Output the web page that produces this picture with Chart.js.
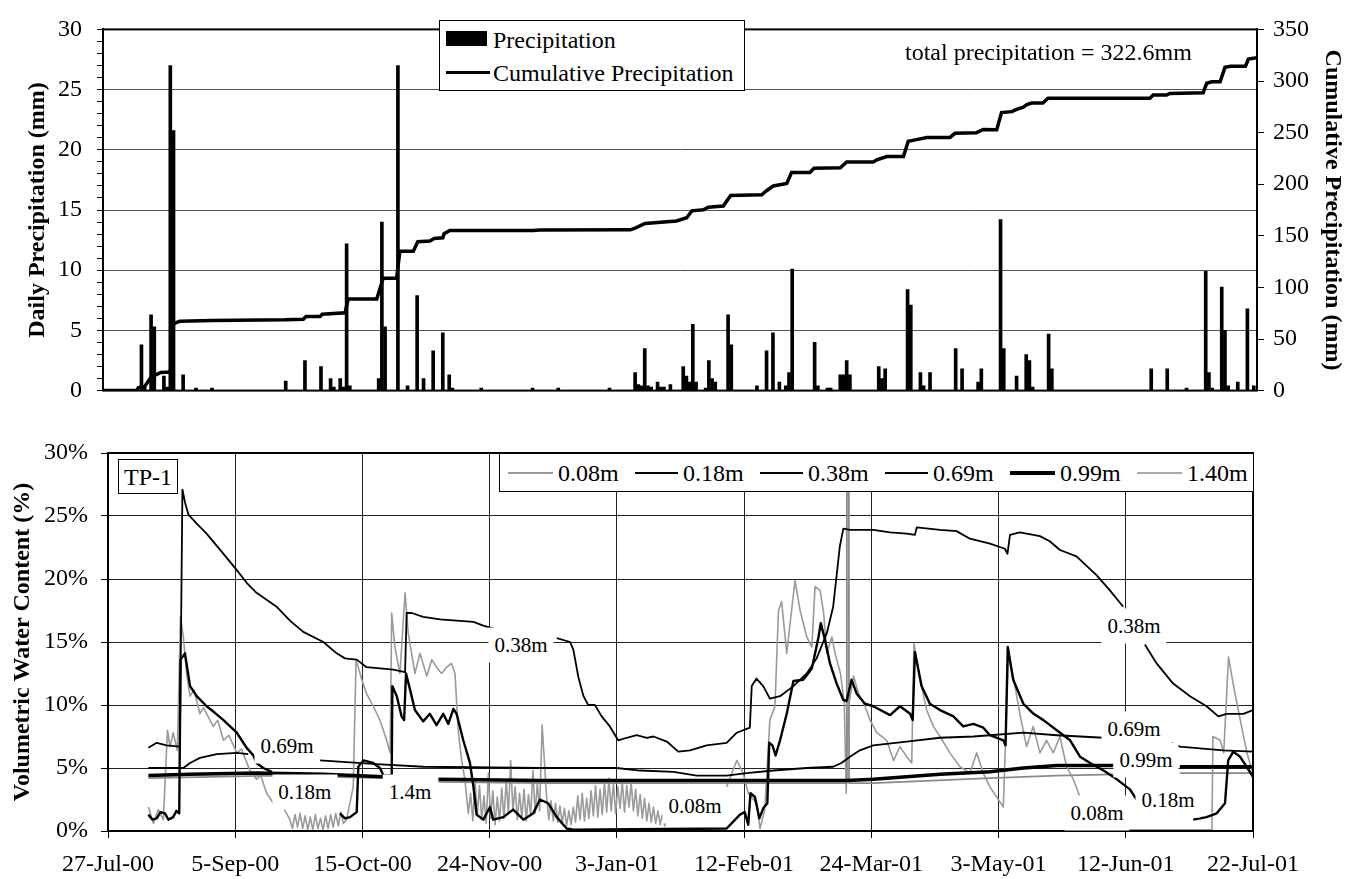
<!DOCTYPE html>
<html><head><meta charset="utf-8">
<script src="https://cdn.jsdelivr.net/npm/chart.js@4.4.1/dist/chart.umd.min.js"></script>
<style>
 body{margin:0;background:#fff;}
 #wrap{position:relative;width:1345px;height:879px;overflow:hidden;font-family:'Liberation Serif','Times New Roman',serif;color:#000;}
 canvas{position:absolute;left:0;}
 .box{position:absolute;background:#fff;border:1px solid #000;box-sizing:border-box;}
 .txt{position:absolute;font-size:24px;line-height:24px;white-space:nowrap;}
 .lbl{position:absolute;background:#fff;font-size:21px;line-height:21px;padding:7px 6px;white-space:nowrap;transform:translate(-50%,-50%);}
 .sw{position:absolute;}
</style></head>
<body><div id="wrap">
<canvas id="top" width="1345" height="420" style="top:0"></canvas>
<canvas id="bot" width="1345" height="459" style="top:420px"></canvas>
<div class="box" style="left:439px;top:20px;width:306px;height:71px">
  <div class="sw" style="left:6px;top:10px;width:41px;height:15px;background:#000"></div>
  <div class="txt" style="left:53px;top:7px">Precipitation</div>
  <div class="sw" style="left:6px;top:50px;width:44px;height:3px;background:#000"></div>
  <div class="txt" style="left:53px;top:40px">Cumulative Precipitation</div>
</div>
<div class="txt" style="left:905px;top:40px">total precipitation = 322.6mm</div>
<div class="box" style="left:499px;top:453px;width:755px;height:39px">
  <div class="sw" style="left:8px;top:18px;width:45px;height:2px;background:#999"></div>
  <div class="txt" style="left:58px;top:7px">0.08m</div>
  <div class="sw" style="left:135px;top:18px;width:43px;height:1.5px;background:#000"></div>
  <div class="txt" style="left:183px;top:7px">0.18m</div>
  <div class="sw" style="left:260px;top:18px;width:43px;height:1.5px;background:#000"></div>
  <div class="txt" style="left:308px;top:7px">0.38m</div>
  <div class="sw" style="left:385px;top:18px;width:43px;height:1.5px;background:#000"></div>
  <div class="txt" style="left:433px;top:7px">0.69m</div>
  <div class="sw" style="left:510px;top:17px;width:45px;height:4px;background:#000"></div>
  <div class="txt" style="left:560px;top:7px">0.99m</div>
  <div class="sw" style="left:637px;top:18px;width:45px;height:1.5px;background:#aaa"></div>
  <div class="txt" style="left:687px;top:7px">1.40m</div>
</div>
<div class="box" style="left:118px;top:459px;width:60px;height:35px">
  <div class="txt" style="left:0;width:58px;text-align:center;top:5px">TP-1</div>
</div>
</div>
<script>
// ---------- DATA ----------
// Top chart: days since 27-Jul-00
const rainDay = [12,13,15,16,19,20,21,22,25,29,34,57,63,68,71,72,74,75,76,77,86,87,88,92,95,98,100,103,106,108,109,118,134,142,158,166,167,168,169,170,171,173,174,175,177,181,182,183,184,185,188,189,190,191,195,196,204,207,209,211,213,214,215,222,223,226,227,230,231,232,233,242,243,244,251,252,255,256,258,266,268,273,274,280,281,285,288,289,290,295,296,327,332,338,344,345,346,349,350,351,354,357,359];
const rainMM  = [3.8,0.3,6.3,5.3,1.2,0.3,27.0,21.6,1.3,0.2,0.2,0.8,2.5,2.0,1.0,0.3,1.0,0.3,12.2,0.4,1.0,14.0,5.3,27.0,0.4,7.9,1.0,3.3,4.8,1.3,0.2,0.2,0.2,0.2,0.2,1.5,0.5,0.4,3.5,0.4,0.3,0.7,0.3,0.3,0.5,2.0,1.2,0.7,5.5,0.7,0.2,2.5,1.0,0.7,6.3,3.8,0.4,3.3,4.8,0.7,0.4,1.5,10.1,4.0,0.4,0.2,0.2,1.3,1.3,2.5,1.3,2.0,1.0,1.8,8.4,7.1,1.5,0.4,1.5,3.5,1.8,0.7,1.8,14.2,3.5,1.2,3.0,2.5,0.3,4.7,1.8,1.8,1.8,0.2,9.9,1.5,0.2,8.6,5.0,0.4,0.7,6.8,0.4];
const cumDay = [0,10.5,11,13,15,16,18,21,22,24,34,56.8,62.5,63.3,67.7,68.4,75.5,76.5,85.4,87.4,91.6,92.6,96.8,98.2,102,103.3,106,106.4,108.2,134.1,136.3,164.5,166,169.1,178.9,182.1,183.7,187.3,188.8,193.5,195.8,205.5,207,209.1,213.3,214.8,220.5,221.8,230,232,240.3,241.4,244.5,249.7,251.2,253.8,257,264.2,265.8,272.5,274.6,278.8,280.3,283.5,285,287.1,288.2,289.7,293.2,294.8,326.6,327.6,331.8,332.8,343.2,344.3,345.9,348.5,350,351.7,356.4,357.3,360];
const cumMM  = [0,0,2.8,4,13,14.5,17.6,18,64.9,67.1,68,68.6,69.2,71.7,71.7,74.1,75.4,88.7,88.7,108.8,108.8,135,135,144.3,145,147.4,148,152,155.1,155.1,155.5,155.8,157.5,161.9,164.4,167.5,174.2,175.2,177.6,178.9,189,189.7,193.7,198.3,200.8,211.3,211.3,215.4,215.9,221.5,221.5,223.7,226.8,226.8,241.6,243.2,245.3,245.3,249.3,249.9,253,252.8,269.4,270.3,272.5,274.7,277.1,278.7,278.7,283.3,283.3,286.4,286.4,287.9,288.6,297.8,299.3,299.3,313.2,314.2,314.2,321.3,322.6];

// Bottom chart: [day since 27-Jul-00, volumetric water content %]; null = break
const vwc008 = [[12.7,1.9],[14.3,0.6],[15.8,1.7],[17.4,0.9],[18.7,8.0],[19.5,6.7],[20.5,7.8],[21.8,6.4],[22.8,17.0],[23.7,15.4],[24.7,12.5],[25.8,10.7],[27,11.2],[28.9,9.3],[30,9.8],[33.1,8.3],[34.5,8.8],[36.3,7.2],[38,7.6],[40.5,6.2],[42,6.5],[44.6,4.8],[46.7,4.1],[48,4.4],[49.9,3.0],[52.0,2.2],[54,2.4],[57.2,0.9],[58,0.2],[58.8,1.3],[59.6,0.3],[60.4,1.4],[61.2,0.2],[62,1.2],[62.8,0.1],[63.6,1.1],[64.4,0.1],[65.2,1.3],[66,0.2],[66.8,1.0],[67.6,0.1],[68.4,1.2],[69.2,0.2],[70,1.3],[70.8,0.3],[71.6,1.4],[72.4,0.4],[73.2,1.5],[74,0.6],[75.0,0.9],[77.1,3.5],[78.0,13.6],[79.8,12.0],[81.3,10.9],[83.4,9.9],[85.5,8.8],[87.6,7.2],[88.7,6.2],[89.2,17.3],[90.2,14.6],[91.8,12.5],[93.4,18.9],[94.4,15.7],[96.5,12.5],[98.1,14.1],[100.2,12.3],[101.8,13.6],[103.3,13.0],[104.9,12.5],[106.5,13.0],[108.0,13.3],[109.1,12.5],[110.1,8.0],[111.2,5.6],[112.2,4.1],[113.3,1.4],[114,3.0],[114.7,0.8],[115.4,4.1],[116.1,1.2],[116.8,3.6],[117.5,0.9],[118.2,2.8],[118.9,0.6],[119.6,4.6],[120.3,1.0],[121,3.2],[121.7,0.5],[122.4,2.7],[123.1,0.8],[123.8,3.4],[124.5,1.0],[125.2,4.0],[125.9,1.4],[126.6,5.6],[127.3,1.6],[128,3.5],[128.7,0.9],[129.4,3.0],[130.1,1.1],[130.8,3.3],[131.5,0.8],[132.2,2.9],[132.9,1.2],[133.6,4.8],[134.3,1.4],[135,3.8],[135.7,1.6],[136.5,8.4],[137.9,2.7],[138.6,0.9],[139.3,2.4],[140,0.8],[140.7,2.2],[141.4,0.7],[142.1,2.0],[142.8,0.6],[143.5,1.8],[144.2,0.4],[144.9,1.6],[145.6,0.5],[146.3,1.9],[147,0.7],[147.7,2.8],[148.4,0.9],[149.1,3.0],[149.8,0.8],[150.5,2.6],[151.2,1.0],[151.9,3.2],[152.6,1.2],[153.3,3.6],[154,1.1],[154.7,3.3],[155.4,1.3],[156.1,3.9],[156.8,1.5],[157.5,4.2],[158.2,1.6],[158.9,3.8],[159.6,1.4],[160.3,3.5],[161,1.8],[161.7,3.9],[162.4,1.5],[163.1,3.6],[163.8,1.9],[164.5,3.8],[165.2,1.6],[165.9,3.3],[166.6,1.2],[167.3,2.9],[168,1.0],[168.7,2.6],[169.4,0.8],[170.1,2.2],[170.8,0.7],[171.5,1.9],[172.2,0.6],[172.9,1.6],[173.6,0.5],[174.3,1.3],[175,0.4],[175.7,0.9],[176,null],[194.5,3.5],[197.7,5.6],[199.7,4.6],[201.3,3.0],[203.9,2.2],[205.0,0.2],[206.5,1.7],[208.1,8.8],[209.7,9.9],[210.8,17.5],[211.8,18.2],[213.4,14.1],[216.0,19.9],[217.6,17.5],[219.7,15.4],[221.3,14.6],[222.3,19.4],[223.9,19.1],[225.0,17.3],[226.0,14.1],[227.6,15.4],[228.6,14.1],[230.3,12.5],[231.5,10.1],[232.1,3.0],[232.8,9.9],[234.4,12.3],[236.0,10.9],[238.0,9.9],[239.6,8.8],[241.7,7.8],[244.8,7.2],[247.0,5.6],[249.0,6.7],[251.1,5.9],[252.7,5.4],[253.4,14.9],[255.3,12.0],[257.4,9.6],[259.5,8.3],[261.6,7.5],[264.7,6.2],[267.9,5.1],[271.0,4.6],[273.1,6.2],[275.2,4.6],[277.3,3.5],[279.4,2.7],[281.5,1.9],[283.1,14.1],[284.6,12.3],[286.7,9.3],[288.8,6.7],[290.9,8.3],[293.0,6.2],[295.1,7.2],[297.2,6.2],[299.3,7.5],[301.4,5.1],[303.5,4.1],[305.6,2.7],[306.7,2.6],[307,null],[320.8,0.1],[347.1,0.1],[347.4,7.5],[349.7,7.2],[350.8,6.2],[352.3,13.8],[353.9,11.5],[356.0,8.8],[358.1,6.2],[359.7,4.8],[360,4.6]];
const vwc018 = [[12.7,1.3],[14,0.9],[15.3,1.0],[16.5,1.5],[17.9,1.4],[19,0.9],[20.5,1.1],[21.5,1.6],[22.4,1.4],[22.8,13.6],[24.2,14.1],[25.8,11.5],[27.9,10.7],[31.0,9.9],[33.5,9.4],[36.3,8.8],[40.5,7.8],[43.6,6.6],[45.7,6.0],[46.7,5.4],[48.8,5.0],[51.5,4.7],[52,null],[72.9,1.4],[74.5,1.0],[76.1,1.1],[78.2,1.5],[78.7,5.1],[80.3,5.6],[83.4,5.4],[85.5,5.0],[86.6,4.4],[89.2,4.4],[89.4,11.5],[90.8,10.7],[92.3,9.1],[93.1,8.8],[93.7,12.5],[94.7,11.5],[96.5,9.6],[99.1,8.7],[101.2,9.3],[103.3,8.4],[105.4,9.3],[107.0,8.5],[108.6,9.7],[109.6,9.3],[111.7,7.2],[113.8,5.4],[114.9,3.5],[115.9,1.3],[118.0,0.9],[120.1,1.9],[121.1,0.9],[124.3,1.1],[127.4,1.7],[130.6,0.9],[133.7,1.4],[135.8,2.5],[138.4,2.2],[141.1,1.1],[144.2,0.2],[146.3,0.1],[194.5,0.2],[198.7,1.3],[200.2,1.5],[201.3,0.5],[202.0,3.0],[203.4,2.7],[204.8,1.0],[206.0,1.8],[207.3,2.2],[207.9,7.0],[208.9,6.8],[209.9,6.0],[211.3,7.2],[213.4,9.3],[215.5,11.9],[218.6,12.0],[221.3,12.9],[223.4,15.4],[224.1,16.5],[225.4,15.2],[227.0,13.3],[229.1,11.7],[231.2,10.4],[232.2,10.3],[233.8,12.0],[235.4,10.9],[238.0,10.1],[240.6,9.9],[245.9,9.2],[249.0,9.9],[252.2,9.3],[253.0,8.8],[253.7,14.2],[255.8,11.5],[258.4,10.1],[261.6,9.6],[265.8,9.1],[268.9,8.3],[272.1,8.5],[275.2,8.2],[277.3,7.6],[281.5,7.2],[282.2,6.8],[282.9,14.6],[284.6,12.0],[287.8,10.1],[291.0,9.3],[294.1,8.8],[298.3,8.0],[302.5,7.2],[305.6,5.9],[308.8,5.4],[313.0,4.8],[317.2,4.1],[321.3,3.3],[323.4,2.5],[324,null],[341.2,0.9],[345.4,1.1],[348.6,1.4],[351.2,2.2],[352.2,5.6],[353.8,6.3],[355.9,5.9],[358.0,5.1],[360,4.3]];
const vwc038 = [[12.7,6.6],[15.3,7.0],[18.4,6.8],[22.6,6.7],[23.4,27.1],[24.2,26.1],[25.3,25.1],[27.9,24.4],[31.0,23.6],[36.3,22.0],[40.5,20.7],[43.6,19.7],[46.7,18.9],[53.0,17.8],[57.2,16.7],[61.4,15.8],[67.7,15.0],[71.9,14.1],[74.5,13.7],[78.2,13.6],[81.3,13.0],[85.5,12.9],[89.7,12.8],[93.4,12.6],[93.9,17.3],[95.5,17.3],[99.1,17.0],[104.4,16.8],[109.6,16.7],[114.9,16.6],[118.0,16.3],[122.2,16.0],[122.5,null],[141.1,15.3],[145.3,15.0],[146.3,14.4],[147.9,12.2],[149.5,10.7],[151.0,10.0],[153.1,10.0],[155.2,9.1],[157.8,8.3],[160.4,7.2],[163.1,7.4],[166.2,7.6],[169.4,7.4],[171.5,7.5],[175.7,7.1],[179.3,6.3],[183.0,6.4],[188.2,6.8],[194.5,7.0],[197.7,7.8],[201.8,8.2],[202.4,11.5],[203.9,12.1],[206.0,11.5],[208.1,10.5],[211.3,10.7],[215.5,11.5],[219.7,12.5],[222.8,13.7],[226.0,15.7],[228.0,17.8],[230.1,22.6],[231.2,24.0],[233.3,23.9],[240.6,23.9],[245.9,23.7],[251.1,23.6],[253.7,23.5],[254.3,24.1],[261.6,23.9],[266.8,23.8],[271.0,23.2],[277.3,22.8],[282.0,22.4],[282.8,22.0],[283.6,23.5],[286.7,23.7],[293.0,23.4],[296.1,23.0],[299.3,22.3],[304.5,21.8],[310.8,20.3],[315.0,19.1],[319.2,17.8],[319.5,null],[326.0,14.8],[329.7,13.3],[334.9,11.7],[340.2,10.7],[345.4,9.9],[349.1,9.1],[351.7,9.3],[357.0,9.3],[360,9.6]];
const vwc069 = [[12.7,5.0],[23.7,5.0],[25.8,5.4],[28.9,5.8],[34.2,6.1],[40.5,6.2],[44.1,6.1],[44.5,null],[66.7,5.6],[84.5,5.3],[99.1,5.1],[135.8,5.0],[159.9,5.0],[167.3,4.8],[177.8,4.7],[185.1,4.4],[194.5,4.4],[200.8,4.6],[209.2,4.8],[219.7,5.0],[228.0,5.1],[230.6,5.4],[233.3,5.9],[236.4,6.4],[240.6,6.8],[251.1,7.1],[261.6,7.4],[272.1,7.5],[277.3,7.6],[287.8,7.8],[298.3,7.6],[313.0,7.4],[313.5,null],[334.4,7.0],[337.0,6.7],[350.6,6.4],[360,6.3]];
const vwc099 = [[12.7,4.4],[25.8,4.5],[46.7,4.6],[67.7,4.5],[86.6,4.3],[87,null],[103.9,4.1],[135.8,4.0],[232.2,4.0],[240.6,4.1],[251.1,4.3],[261.6,4.5],[277.3,4.7],[287.8,5.0],[298.3,5.2],[316.1,5.2],[316.5,null],[337.0,5.1],[360,5.1]];
const vwc140 = [[12.7,4.2],[52.0,4.4],[86.6,4.2],[87,null],[103.9,3.9],[135.8,3.8],[232.2,3.8],[232.3,32],[232.9,32],[233.0,3.8],[240.6,3.8],[277.3,4.2],[298.3,4.4],[316.1,4.5],[316.5,null],[337,4.6],[360,4.6]];

const dateTicks = ['27-Jul-00','5-Sep-00','15-Oct-00','24-Nov-00','3-Jan-01','12-Feb-01','24-Mar-01','3-May-01','12-Jun-01','22-Jul-01'];
// in-plot series labels: [text, day, value]
const seriesLabels = [['0.69m',56.3,6.75],['0.18m',61.9,3.1],['1.4m',95.0,3.1],['0.38m',129.9,14.8],['0.08m',184.6,2.0],
  ['0.38m',322.6,16.3],['0.69m',322.6,8.1],['0.99m',326.4,5.6],['0.18m',333.3,2.5],['0.08m',311.0,1.4]];

// ---------- CHARTS ----------
const FF = "'Liberation Serif','Times New Roman',serif";
Chart.defaults.font.family = FF;
Chart.defaults.color = '#000';
const xy = arr => arr.map(p => ({x: p[0], y: p[1]}));

const framePlugin = {id: 'frame', afterDatasetsDraw(chart) {
  const {ctx, chartArea: a} = chart;
  ctx.save(); ctx.strokeStyle = '#000'; ctx.lineWidth = 2;
  ctx.strokeRect(a.left, a.top, a.right - a.left, a.bottom - a.top);
  ctx.restore();
}};

new Chart(document.getElementById('top'), {
  type: 'bar',
  data: {datasets: [
    {type: 'line', label: 'Cumulative Precipitation', data: cumDay.map((d, i) => ({x: d, y: cumMM[i]})),
     yAxisID: 'y2', borderColor: '#000', borderWidth: 3.5, pointRadius: 0, tension: 0, order: 0},
    {type: 'bar', label: 'Precipitation', data: rainDay.map((d, i) => ({x: d, y: rainMM[i]})),
     yAxisID: 'y', backgroundColor: '#000', barThickness: 3, order: 1}
  ]},
  options: {
    responsive: false, animation: false,
    layout: {padding: {top: 23, bottom: 19, left: 0, right: 0}},
    plugins: {legend: {display: false}, tooltip: {enabled: false}},
    scales: {
      x: {type: 'linear', min: 0, max: 360, display: false, offset: false, grid: {offset: false}},
      y: {position: 'left', min: 0, max: 30,
        afterFit(s) { s.width = 103; },
        ticks: {stepSize: 1, autoSkip: false, callback: v => (v % 5 === 0 ? v : ''), font: {size: 24}, padding: 15},
        grid: {color: c => (c.tick && c.tick.value % 5 === 0 ? '#555' : 'rgba(0,0,0,0)'), tickColor: '#000', tickLength: 6, lineWidth: 1},
        border: {color: '#000', width: 2},
        title: {display: true, text: 'Daily Precipitation (mm)', font: {size: 24, weight: 'bold'}, padding: {top: 23, bottom: 0}}},
      y2: {position: 'right', min: 0, max: 350,
        afterFit(s) { s.width = 88; },
        ticks: {stepSize: 50, font: {size: 24}, padding: 9},
        grid: {drawOnChartArea: false, tickColor: '#000', tickLength: 7},
        border: {color: '#000', width: 2},
        title: {display: true, text: 'Cumulative Precipitation (mm)', font: {size: 24, weight: 'bold', lineHeight: 1}, padding: {top: 1, bottom: 0}}}
    }
  },
  plugins: [framePlugin]
});

const lineDs = (label, arr, color, width, order) => ({label, data: xy(arr), borderColor: color, borderWidth: width,
  pointRadius: 0, tension: 0, spanGaps: false, order, borderJoinStyle: 'round'});

const bot = new Chart(document.getElementById('bot'), {
  type: 'line',
  data: {datasets: [
    lineDs('0.08m', vwc008, '#9a9a9a', 1.6, 6),
    lineDs('0.18m', vwc018, '#000', 2.4, 1),
    lineDs('0.38m', vwc038, '#000', 1.8, 2),
    lineDs('0.69m', vwc069, '#000', 1.8, 3),
    lineDs('0.99m', vwc099, '#000', 3.5, 4),
    lineDs('1.40m', vwc140, '#8a8a8a', 1.8, 5)
  ]},
  options: {
    responsive: false, animation: false,
    layout: {padding: {top: 33, right: 92, left: 0, bottom: 0}},
    plugins: {legend: {display: false}, tooltip: {enabled: false}},
    scales: {
      x: {type: 'linear', min: 0, max: 360,
        afterFit(s) { s.height = 48; },
        ticks: {stepSize: 40, autoSkip: false, maxRotation: 0, font: {size: 24}, padding: 12,
          callback: v => dateTicks[Math.round(v / 40)]},
        grid: {color: '#222', tickColor: '#000', tickLength: 7, lineWidth: 1},
        border: {color: '#000', width: 2}},
      y: {min: 0, max: 30,
        afterFit(s) { s.width = 108; },
        ticks: {stepSize: 5, font: {size: 24}, padding: 13, callback: v => v + '%'},
        grid: {color: '#222', tickColor: '#000', tickLength: 7, lineWidth: 1},
        border: {color: '#000', width: 2},
        title: {display: true, text: 'Volumetric Water Content (%)', font: {size: 24, weight: 'bold'}, padding: {top: 8, bottom: 0}}}
    }
  },
  plugins: [framePlugin]
});

// series labels with white boxes, positioned through the chart scales
const wrap = document.getElementById('wrap');
seriesLabels.forEach(([t, d, v]) => {
  const el = document.createElement('div');
  el.className = 'lbl';
  el.textContent = t;
  el.style.left = bot.scales.x.getPixelForValue(d) + 'px';
  el.style.top = (420 + bot.scales.y.getPixelForValue(v)) + 'px';
  wrap.appendChild(el);
});
</script>
</body></html>
